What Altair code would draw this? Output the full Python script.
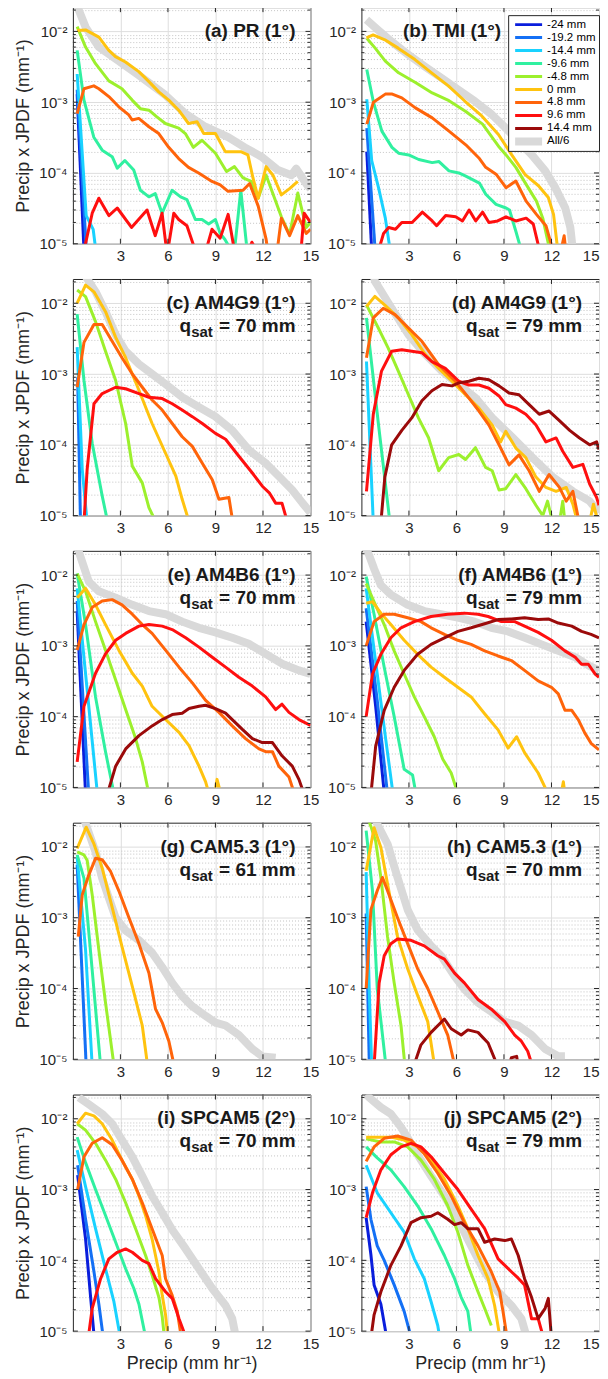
import altair as alt
import pandas as pd

# ---------------- series definitions ----------------
SERIES = ["-24 mm", "-19.2 mm", "-14.4 mm", "-9.6 mm", "-4.8 mm",
          "0 mm", "4.8 mm", "9.6 mm", "14.4 mm", "All/6"]
KEYS = ["n24", "n19", "n14", "n9", "n4", "z0", "p4", "p9", "p14", "all"]
COLORS = ["#0a1edc", "#1470f5", "#19d2ff", "#30f0a0", "#9cf02d",
          "#ffc30f", "#ff640a", "#ff0f0f", "#9b0a0a", "#d9d9d9"]
WIDTHS = [3, 3, 3, 3, 3, 3, 3, 3, 3, 8]

X_TICKS = [3, 6, 9, 12, 15]
X_INNER_TICKS = [3, 6, 9, 12]
Y_MAJOR = [1e-5, 1e-4, 1e-3, 1e-2]
Y_MINOR = [2e-5, 3e-5, 4e-5, 5e-5, 6e-5, 7e-5, 8e-5, 9e-5,
           2e-4, 3e-4, 4e-4, 5e-4, 6e-4, 7e-4, 8e-4, 9e-4,
           2e-3, 3e-3, 4e-3, 5e-3, 6e-3, 7e-3, 8e-3, 9e-3, 2e-2]
Y_TICKS = sorted(Y_MAJOR + Y_MINOR)

TITLES = ["(a) PR (1°)", "(b) TMI (1°)", "(c) AM4G9 (1°)", "(d) AM4G9 (1°)",
          "(e) AM4B6 (1°)", "(f) AM4B6 (1°)", "(g) CAM5.3 (1°)", "(h) CAM5.3 (1°)",
          "(i) SPCAM5 (2°)", "(j) SPCAM5 (2°)"]
QSAT = [None, None, "70", "79", "70", "79", "61", "70", "70", "79"]

# ---------------- data (precip, Precip x JPDF) ----------------
PANEL_A = {
    "n24": [(0.27, 1.3e-3), (0.7, 8e-6)],
    "n19": [(0.27, 1.5e-3), (0.85, 8e-6)],
    "n14": [(0.27, 2.5e-3), (0.84, 2.5e-5), (1.28, 1.6e-5), (1.45, 8e-6)],
    "n9": [(0.27, 5.4e-3), (0.7, 1.07e-3), (1.32, 3.2e-4), (1.85, 2.1e-4), (2.48, 1.7e-4),
           (2.8, 1.17e-4), (3.28, 1.5e-4), (3.84, 1.1e-4), (4.26, 5.7e-5), (4.8, 4.6e-5),
           (5.2, 5.1e-5), (5.63, 2.7e-5), (6.26, 5.7e-5), (6.8, 4.6e-5), (7.2, 4.2e-5),
           (7.73, 2.2e-5), (8.15, 2.2e-5), (8.57, 1.9e-5), (9.0, 2.2e-5), (9.3, 1.4e-5),
           (9.6, 1.15e-5), (10.0, 8e-6), (10.2, 8e-6), (10.6, 5.7e-5), (11.0, 8e-6)],
    "n4": [(0.27, 0.0117), (0.8, 6e-3), (1.43, 3.5e-3), (2.27, 2e-3), (3.1, 1.55e-3),
           (3.74, 1.07e-3), (4.26, 8.1e-4), (4.8, 7.7e-4), (5.3, 6.2e-4), (5.84, 5e-4),
           (6.68, 4.3e-4), (7.1, 3.6e-4), (7.6, 2.3e-4), (8.15, 2.9e-4), (9.0, 1.9e-4),
           (9.7, 1.05e-4), (10.2, 1.23e-4), (10.74, 8.5e-5), (11.26, 7.6e-5), (11.7, 4.4e-5),
           (12.2, 9.3e-5), (13.16, 2.4e-5), (13.68, 1.35e-5), (14.2, 5.2e-5), (14.73, 1.7e-5),
           (15.0, 2e-5)],
    "z0": [(0.27, 0.0103), (0.8, 0.0105), (1.64, 8.3e-3), (2.27, 5.4e-3), (2.69, 4.4e-3),
           (3.32, 3.7e-3), (4.16, 2.7e-3), (4.8, 1.95e-3), (5.42, 1.4e-3), (6.05, 1.07e-3),
           (6.68, 7.7e-4), (7.3, 5e-4), (7.84, 5.3e-4), (8.26, 3.6e-4), (9.0, 3.6e-4),
           (9.62, 2e-4), (10.6, 2e-4), (11.05, 1.8e-4), (11.37, 8.5e-5), (11.7, 4.4e-5),
           (12.2, 1.23e-4), (12.63, 9.3e-5), (13.16, 4.9e-5), (13.68, 6e-5), (14.2, 7.6e-5)],
    "p4": [(0.27, 6.9e-4), (0.7, 1.55e-3), (1.32, 1.7e-3), (1.64, 1.55e-3), (2.27, 1.2e-3),
           (2.9, 8.6e-4), (3.53, 6.6e-4), (3.74, 5.6e-4), (4.16, 5.9e-4), (4.8, 4.5e-4),
           (5.42, 3.6e-4), (6.05, 2.3e-4), (6.68, 1.6e-4), (7.3, 1.2e-4), (7.94, 1e-4),
           (8.78, 7.6e-5), (9.3, 6.8e-5), (9.8, 5.5e-5), (10.74, 5.7e-5), (11.16, 7.1e-5),
           (11.7, 3.4e-5), (12.2, 1.15e-5), (12.3, 8e-6), (12.9, 8e-6), (13.16, 2.3e-5),
           (13.68, 1.3e-5), (14.2, 2.5e-5), (14.73, 1.4e-5), (15.0, 1.6e-5)],
    "p9": [(0.7, 8e-6), (1.22, 2.7e-5), (1.64, 4.4e-5), (2.27, 2.5e-5), (2.8, 3.2e-5),
           (3.7, 1.7e-5), (4.68, 3e-5), (5.2, 1.3e-5), (5.63, 2.7e-5), (5.95, 7e-6),
           (6.37, 2.7e-5), (6.68, 2.2e-5), (7.2, 1.8e-5), (7.73, 8e-6), (8.4, 8e-6),
           (8.78, 1.6e-5), (9.3, 1.2e-5), (9.8, 2.6e-5), (10.2, 8e-6), (11.1, 8e-6),
           (11.3, 1.05e-5), (11.6, 8e-6), (14.4, 8e-6), (14.6, 2.7e-5), (15.0, 2e-5)],
    "all": [(0.2, 0.025), (0.8, 0.0115), (1.64, 6e-3), (2.69, 4.1e-3), (4.16, 2.4e-3),
            (5.84, 1.26e-3), (7.1, 6.9e-4), (8.36, 4.5e-4), (9.8, 3.2e-4), (10.85, 2.3e-4),
            (11.9, 1.7e-4), (12.95, 1.1e-4), (13.8, 9.3e-5), (14.1, 1.15e-4), (14.84, 6.5e-5),
            (15.0, 6e-5)],
}

PANEL_B = {
    "n24": [(0.34, 2e-4), (0.65, 8e-6)],
    "n19": [(0.34, 4.3e-4), (0.87, 8e-6)],
    "n14": [(0.34, 1.1e-3), (0.65, 1.5e-4), (1.08, 6.2e-5), (1.51, 2.3e-5), (1.82, 8e-6)],
    "n9": [(0.34, 2.9e-3), (0.76, 1e-3), (1.29, 3.9e-4), (1.93, 2.3e-4), (2.35, 1.9e-4),
           (2.99, 1.8e-4), (3.62, 1.55e-4), (4.47, 1.4e-4), (4.9, 1.45e-4), (5.53, 1.07e-4),
           (6.15, 1e-4), (6.59, 9e-5), (7.45, 7.2e-5), (7.85, 5e-5), (8.5, 3.6e-5),
           (9.13, 3.2e-5), (9.35, 3e-5), (9.75, 1.5e-5), (10.1, 8e-6)],
    "n4": [(0.34, 8e-3), (0.87, 5.8e-3), (1.51, 3.8e-3), (2.35, 2.6e-3), (3.41, 1.9e-3),
           (4.47, 1.35e-3), (5.53, 1.05e-3), (6.59, 7.4e-4), (7.65, 4.9e-4), (8.71, 2.3e-4),
           (9.13, 1.8e-4), (9.75, 1.2e-4), (10.4, 6.9e-5), (11.05, 4e-5), (11.45, 2.3e-5),
           (11.9, 8e-6)],
    "z0": [(0.32, 8.1e-3), (0.74, 8.9e-3), (1.48, 7.6e-3), (2.32, 5.8e-3), (3.38, 4e-3),
           (4.43, 2.6e-3), (5.49, 1.7e-3), (6.54, 1.03e-3), (7.6, 6.4e-4), (8.65, 3.5e-4),
           (9.49, 1.8e-4), (10.34, 9.5e-5), (11.18, 6.6e-5), (11.8, 4.5e-5), (12.13, 2.6e-5),
           (12.4, 8e-6)],
    "p4": [(0.34, 4.9e-4), (0.76, 1e-3), (1.51, 1.3e-3), (1.95, 1.3e-3), (2.55, 1.15e-3),
           (3.41, 8.3e-4), (4.47, 6e-4), (5.53, 3.9e-4), (6.59, 2.5e-4), (7.45, 1.6e-4),
           (7.85, 1.2e-4), (8.5, 9.6e-5), (9.13, 6.2e-5), (9.75, 7.7e-5), (10.4, 4e-5),
           (11.05, 2.6e-5), (11.65, 1.8e-5), (12.1, 8e-6), (12.6, 8e-6), (12.8, 1.3e-5),
           (12.9, 8e-6)],
    "p9": [(1.08, 8e-6), (1.4, 1.4e-5), (1.72, 1.7e-5), (2.15, 1.6e-5), (2.55, 2e-5),
           (3.2, 2e-5), (3.85, 2.8e-5), (4.47, 2.1e-5), (4.75, 1.8e-5), (5.32, 2.5e-5),
           (5.95, 2.4e-5), (6.38, 2.1e-5), (6.8, 3e-5), (7.22, 2.1e-5), (7.65, 2.8e-5),
           (8.05, 2e-5), (8.6, 2.1e-5), (9.13, 2.4e-5), (9.75, 2.1e-5), (10.4, 2.3e-5),
           (10.85, 1.9e-5), (11.25, 8e-6)],
    "all": [(0.32, 0.0146), (1.05, 0.0105), (1.9, 7.2e-3), (2.95, 4.7e-3), (4.0, 3.2e-3),
            (5.06, 2.2e-3), (6.12, 1.5e-3), (7.17, 1.03e-3), (8.23, 6.7e-4), (9.07, 4.4e-4),
            (9.92, 2.8e-4), (10.76, 1.8e-4), (11.6, 1.07e-4), (12.24, 6.2e-5), (12.87, 3.2e-5),
            (13.19, 1.7e-5), (13.35, 8e-6)],
}

PANEL_C = {
    "n19": [(0.3, 9e-4), (0.48, 8e-6)],
    "n14": [(0.27, 2.4e-3), (0.59, 4.5e-5), (0.9, 8e-6)],
    "n9": [(0.27, 7e-3), (0.7, 8.1e-4), (1.22, 1.05e-4), (1.85, 1.9e-5), (2.2, 8e-6)],
    "n4": [(0.27, 0.0154), (0.8, 0.0124), (1.43, 5.5e-3), (2.06, 2.1e-3), (2.7, 8.1e-4),
           (3.33, 2e-4), (3.75, 5e-5), (4.38, 2.9e-5), (4.8, 1.3e-5), (5.25, 8e-6)],
    "z0": [(0.27, 0.01), (0.8, 0.018), (1.33, 0.0145), (2.06, 7.6e-3), (2.7, 3.3e-3),
           (3.33, 1.7e-3), (4.17, 5.9e-4), (5.0, 2e-4), (5.85, 7.6e-5), (6.5, 3.6e-5),
           (6.9, 1.7e-5), (7.35, 8e-6)],
    "p4": [(0.27, 6.5e-4), (0.7, 2.8e-3), (1.33, 5e-3), (1.85, 5e-3), (2.48, 2.9e-3),
           (3.1, 1.7e-3), (3.75, 1e-3), (4.38, 6.5e-4), (5.0, 4.3e-4), (5.64, 3.1e-4),
           (6.27, 2e-4), (6.9, 1.3e-4), (7.54, 9.5e-5), (8.17, 5.5e-5), (8.8, 3.2e-5),
           (9.22, 1.7e-5), (9.85, 1.8e-5), (10.1, 8e-6)],
    "p9": [(0.7, 8e-6), (0.9, 4.5e-5), (1.33, 3.8e-4), (1.85, 5.3e-4), (2.7, 6.5e-4),
           (3.33, 6.2e-4), (4.17, 5.3e-4), (4.8, 4.7e-4), (5.64, 4.5e-4), (6.27, 3.8e-4),
           (6.9, 3.1e-4), (7.54, 2.5e-4), (8.17, 2e-4), (9.0, 1.45e-4), (9.64, 1.2e-4),
           (10.48, 6.9e-5), (11.33, 4e-5), (11.96, 2.6e-5), (12.4, 2.1e-5), (12.8, 1.5e-5),
           (13.2, 1.5e-5), (13.55, 8e-6)],
    "all": [(0.8, 0.024), (1.43, 0.0146), (2.06, 7.6e-3), (2.7, 3.6e-3), (3.33, 2.1e-3),
            (4.17, 1.38e-3), (5.0, 1e-3), (5.85, 7.2e-4), (6.9, 4.7e-4), (7.96, 3.4e-4),
            (9.0, 2.5e-4), (10.06, 1.6e-4), (11.1, 8.5e-5), (12.17, 5.5e-5), (13.0, 3.6e-5),
            (13.85, 2.3e-5), (14.5, 1.5e-5), (15.0, 1.1e-5)],
}

PANEL_D = {
    "n14": [(0.32, 1.5e-3), (0.75, 8e-6)],
    "n9": [(0.32, 6.2e-3), (1.06, 2.1e-4), (1.8, 8e-6)],
    "n4": [(0.32, 9.5e-3), (1.06, 4.5e-3), (1.7, 2.3e-3), (2.33, 1.1e-3), (2.97, 5.1e-4),
           (3.6, 2.4e-4), (4.24, 1.26e-4), (4.88, 4.3e-5), (5.51, 6.6e-5), (6.15, 7.3e-5),
           (6.57, 6.2e-5), (7.2, 9.1e-5), (7.84, 4.8e-5), (8.26, 4.3e-5), (8.69, 2.3e-5),
           (9.11, 2.4e-5), (9.75, 3.8e-5), (10.38, 2.4e-5), (11.02, 1.4e-5), (11.45, 1e-5),
           (11.75, 1.6e-5), (12.08, 8e-6), (12.5, 8e-6), (12.71, 1.6e-5), (12.85, 8e-6)],
    "z0": [(0.32, 9e-3), (0.85, 0.0125), (1.48, 9.4e-3), (2.33, 6.2e-3), (3.18, 3.6e-3),
           (4.03, 1.9e-3), (4.88, 1.2e-3), (5.72, 7.9e-4), (6.57, 5.1e-4), (7.42, 3.3e-4),
           (8.26, 1.9e-4), (8.79, 1.1e-4), (9.11, 1.55e-4), (9.75, 9e-5), (10.38, 6.6e-5),
           (11.02, 3.5e-5), (11.65, 2.5e-5), (12.29, 2.2e-5), (12.93, 2.5e-5), (13.35, 1.45e-5),
           (13.65, 8e-6), (14.4, 8e-6), (14.65, 1.45e-5), (14.95, 8e-6)],
    "p4": [(0.32, 1.7e-3), (0.75, 6.2e-3), (1.38, 8.5e-3), (2.12, 6.9e-3), (2.75, 5e-3),
           (3.82, 2.9e-3), (4.88, 1.35e-3), (5.93, 7.9e-4), (6.78, 4.6e-4), (7.42, 3e-4),
           (8.05, 1.9e-4), (8.69, 1e-4), (9.32, 5.2e-5), (9.95, 7.2e-5), (10.59, 4.3e-5),
           (11.23, 2.2e-5), (11.85, 3.8e-5), (12.5, 2.5e-5), (12.93, 1.6e-5), (13.35, 2.2e-5),
           (13.75, 8e-6)],
    "p9": [(0.32, 2.2e-5), (0.75, 2.7e-4), (1.27, 1.1e-3), (1.91, 2.1e-3), (2.55, 2.2e-3),
           (3.18, 2.1e-3), (3.82, 2e-3), (4.45, 1.5e-3), (5.3, 1.2e-3), (6.15, 7.9e-4),
           (6.78, 7e-4), (7.42, 7e-4), (8.05, 6.3e-4), (8.69, 4.9e-4), (9.11, 3.7e-4),
           (9.75, 3.3e-4), (10.38, 2.7e-4), (11.02, 1.9e-4), (11.65, 1.1e-4), (12.29, 1.25e-4),
           (12.71, 8.1e-5), (13.35, 4.8e-5), (13.98, 5.3e-5), (14.41, 2.8e-5), (14.85, 1.8e-5),
           (15.0, 1.4e-5)],
    "p14": [(1.23, 8e-6), (1.48, 3.5e-5), (1.91, 1e-4), (2.55, 1.6e-4), (3.18, 2.4e-4),
            (3.82, 4.2e-4), (4.45, 5.8e-4), (5.09, 7.1e-4), (5.72, 6.8e-4), (6.15, 7.5e-4),
            (6.78, 7.9e-4), (7.42, 8.7e-4), (8.05, 8.3e-4), (8.69, 6.8e-4), (9.32, 5.4e-4),
            (9.95, 5.1e-4), (10.59, 3.7e-4), (11.23, 2.7e-4), (11.85, 3e-4), (12.5, 2.2e-4),
            (13.15, 1.6e-4), (13.75, 1.26e-4), (14.41, 1e-4), (14.85, 1.1e-4), (15.0, 8.6e-5)],
    "all": [(0.7, 0.03), (0.85, 0.0205), (1.91, 8.5e-3), (2.97, 3.6e-3), (4.03, 1.9e-3),
            (5.09, 1.1e-3), (6.15, 7.1e-4), (7.2, 4.6e-4), (8.26, 2.4e-4), (9.55, 1.26e-4),
            (10.8, 6.6e-5), (12.08, 3.5e-5), (13.35, 2.2e-5), (14.41, 1.6e-5), (15.0, 1.1e-5)],
}

PANEL_E = {
    "n24": [(0.27, 3.1e-3), (0.8, 8e-6)],
    "n19": [(0.27, 4.3e-3), (1.0, 8e-6)],
    "n14": [(0.27, 6.5e-3), (0.9, 2.4e-4), (1.55, 8e-6)],
    "n9": [(0.27, 0.0105), (0.8, 2e-3), (1.43, 1.9e-4), (2.06, 3.2e-5), (2.6, 8e-6)],
    "n4": [(0.27, 0.0105), (0.8, 5.9e-3), (1.43, 2.2e-3), (2.06, 8.7e-4), (2.7, 3.3e-4),
           (3.33, 1.26e-4), (3.96, 4.9e-5), (4.38, 2.3e-5), (4.8, 8e-6)],
    "z0": [(0.27, 4.8e-3), (0.8, 6.5e-3), (1.43, 3.8e-3), (2.06, 2e-3), (2.9, 8.7e-4),
           (3.75, 4.1e-4), (4.38, 2.7e-4), (5.0, 1.4e-4), (5.85, 9.1e-5), (6.7, 6e-5),
           (7.33, 3.9e-5), (7.96, 2e-5), (8.38, 1.2e-5), (8.6, 8e-6), (8.95, 8e-6),
           (9.1, 1.3e-5), (9.35, 8e-6)],
    "p4": [(0.27, 8.7e-4), (0.7, 2e-3), (1.22, 3.5e-3), (1.85, 4.3e-3), (2.48, 4.5e-3),
           (3.1, 3.8e-3), (3.75, 2.8e-3), (4.38, 2e-3), (5.0, 1.5e-3), (5.85, 8.7e-4),
           (6.7, 5e-4), (7.54, 3e-4), (8.38, 1.7e-4), (9.22, 1.15e-4), (10.06, 7.4e-5),
           (10.9, 4.9e-5), (11.75, 3.5e-5), (12.17, 3.2e-5), (12.6, 3.2e-5), (13.0, 2e-5),
           (13.64, 1.4e-5), (14.0, 8e-6)],
    "p9": [(0.27, 2.3e-5), (0.7, 1.4e-4), (1.43, 4.1e-4), (2.06, 7.7e-4), (2.7, 1.2e-3),
           (3.33, 1.5e-3), (4.17, 1.9e-3), (4.8, 2e-3), (5.64, 1.9e-3), (6.27, 1.7e-3),
           (7.12, 1.3e-3), (7.96, 9.6e-4), (8.8, 6.9e-4), (9.64, 5e-4), (10.48, 3.6e-4),
           (11.33, 2.7e-4), (12.17, 1.9e-4), (12.8, 1.26e-4), (13.2, 1.5e-4), (13.64, 1.15e-4),
           (14.27, 9.1e-5), (15.0, 7.5e-5)],
    "p14": [(2.17, 8e-6), (2.7, 2e-5), (3.33, 3.5e-5), (4.17, 5.4e-5), (5.0, 7.4e-5),
            (5.64, 9.1e-5), (6.27, 1.07e-4), (6.9, 1.12e-4), (7.33, 1.3e-4), (7.96, 1.4e-4),
            (8.38, 1.45e-4), (9.0, 1.3e-4), (9.64, 1.12e-4), (10.06, 9.1e-5), (10.7, 6.6e-5),
            (11.33, 4.9e-5), (11.96, 4.3e-5), (12.6, 4.3e-5), (13.2, 2.8e-5), (13.85, 2e-5),
            (14.27, 1.3e-5), (14.6, 8e-6)],
    "all": [(0.27, 0.025), (0.59, 0.0153), (1.0, 8.1e-3), (1.64, 5.9e-3), (2.7, 4.8e-3),
            (3.75, 3.8e-3), (4.8, 3.1e-3), (5.85, 2.8e-3), (6.9, 2.2e-3), (7.96, 1.8e-3),
            (9.0, 1.55e-3), (10.06, 1.3e-3), (11.1, 1.07e-3), (12.17, 7.7e-4), (13.2, 5.6e-4),
            (14.27, 4.5e-4), (15.0, 4e-4)],
}

PANEL_F = {
    "n24": [(0.3, 2.2e-3), (0.9, 1.4e-4), (1.45, 8e-6)],
    "n19": [(0.3, 3.4e-3), (1.0, 1.7e-4), (1.65, 8e-6)],
    "n14": [(0.3, 6.5e-3), (1.0, 4e-4), (1.54, 4.7e-5), (2.0, 8e-6)],
    "n9": [(0.3, 9.5e-3), (0.8, 2.8e-3), (1.44, 5e-4), (2.07, 1e-4), (2.7, 1.8e-5),
           (3.23, 1.5e-5), (3.45, 8e-6)],
    "n4": [(0.3, 7.6e-3), (0.8, 4.2e-3), (1.44, 2e-3), (2.07, 8.5e-4), (2.7, 4e-4),
           (3.34, 1.9e-4), (3.97, 1e-4), (4.6, 5.2e-5), (5.14, 2.5e-5), (5.67, 1.6e-5),
           (6.1, 8e-6)],
    "z0": [(0.3, 4e-3), (0.7, 4.2e-3), (1.23, 2.9e-3), (1.86, 2e-3), (2.7, 1.2e-3),
           (3.55, 7.6e-4), (4.4, 5e-4), (5.24, 3.6e-4), (6.09, 2.6e-4), (6.93, 1.9e-4),
           (7.78, 1.1e-4), (8.63, 6.5e-5), (9.26, 3.6e-5), (9.8, 5.2e-5), (10.3, 3.1e-5),
           (11.16, 1.6e-5), (11.8, 8e-6), (12.6, 8e-6), (12.75, 1.2e-5), (12.85, 8e-6)],
    "p4": [(0.3, 1e-3), (0.8, 2.2e-3), (1.44, 2.8e-3), (2.07, 2.8e-3), (2.92, 2.5e-3),
           (3.76, 2.2e-3), (4.4, 1.8e-3), (5.24, 1.45e-3), (6.09, 1.2e-3), (6.93, 1.05e-3),
           (7.78, 8.5e-4), (8.63, 7.2e-4), (9.47, 6.2e-4), (10.3, 4.5e-4), (11.16, 3.2e-4),
           (12.0, 2.6e-4), (12.43, 2.1e-4), (12.85, 1.23e-4), (13.28, 1.23e-4), (13.7, 9e-5),
           (14.1, 5.9e-5), (14.5, 4.2e-5), (15.0, 3.4e-5)],
    "p9": [(0.3, 1e-4), (0.7, 4e-4), (1.23, 7.6e-4), (1.86, 1.3e-3), (2.5, 1.8e-3),
           (3.34, 2.2e-3), (4.4, 2.6e-3), (5.45, 2.8e-3), (6.5, 2.9e-3), (7.36, 2.8e-3),
           (8.0, 2.6e-3), (8.84, 2.2e-3), (9.68, 2.2e-3), (10.3, 1.9e-3), (11.16, 1.55e-3),
           (12.0, 1.2e-3), (12.85, 8.5e-4), (13.5, 6.9e-4), (13.9, 5.5e-4), (14.33, 5.5e-4),
           (14.76, 4e-4), (15.0, 3.6e-4)],
    "p14": [(0.6, 8e-6), (0.9, 3.8e-5), (1.44, 1.23e-4), (2.07, 2.6e-4), (2.7, 4.5e-4),
            (3.55, 7.6e-4), (4.4, 1.05e-3), (5.24, 1.3e-3), (6.09, 1.6e-3), (6.93, 1.8e-3),
            (7.78, 2.05e-3), (8.63, 2.35e-3), (9.47, 2.4e-3), (10.3, 2.5e-3), (11.16, 2.35e-3),
            (11.8, 2.4e-3), (12.43, 2.1e-3), (13.28, 1.9e-3), (13.9, 1.6e-3), (14.5, 1.45e-3),
            (15.0, 1.3e-3)],
    "all": [(0.2, 0.026), (0.49, 0.019), (0.8, 0.0123), (1.23, 7.2e-3), (1.86, 5.3e-3),
            (2.92, 3.8e-3), (3.97, 3.1e-3), (5.03, 2.8e-3), (6.09, 2.5e-3), (7.15, 2.2e-3),
            (8.2, 1.8e-3), (9.26, 1.6e-3), (10.32, 1.3e-3), (11.37, 1.05e-3), (12.43, 8.5e-4),
            (13.5, 6.9e-4), (14.33, 5.3e-4), (15.0, 4.5e-4)],
}

PANEL_G = {
    "n19": [(0.27, 5.6e-3), (0.84, 8e-6)],
    "n14": [(0.27, 7.2e-3), (0.8, 3.5e-4), (1.22, 8e-6)],
    "n9": [(0.27, 7.7e-3), (0.7, 3.6e-3), (1.22, 1.8e-4), (1.75, 8e-6)],
    "n4": [(0.27, 8.5e-3), (0.7, 7.7e-3), (0.9, 6.5e-3), (1.22, 2.1e-3), (1.64, 3.5e-4),
           (2.06, 6.3e-5), (2.6, 8e-6)],
    "z0": [(0.27, 9.5e-3), (0.84, 0.019), (1.33, 0.011), (1.85, 5e-3), (2.48, 1.4e-3),
           (3.1, 3.9e-4), (3.75, 1.07e-4), (4.38, 3e-5), (4.72, 8e-6)],
    "p4": [(0.34, 5.4e-4), (0.59, 2.1e-3), (1.0, 4e-3), (1.43, 6.9e-3), (1.85, 6.6e-3),
           (2.38, 4.5e-3), (2.9, 2.4e-3), (3.54, 1e-3), (4.17, 4.3e-4), (4.8, 1.65e-4),
           (5.22, 5.1e-5), (5.64, 3.3e-5), (6.06, 1.8e-5), (6.4, 8e-6)],
    "all": [(0.7, 0.025), (1.0, 0.016), (1.43, 8.5e-3), (1.85, 3.6e-3), (2.27, 1.9e-3),
            (2.7, 1e-3), (3.33, 6.6e-4), (4.17, 4.8e-4), (5.0, 3.2e-4), (5.64, 2e-4),
            (6.27, 1.2e-4), (6.9, 7.8e-5), (7.54, 5.6e-5), (8.38, 4.1e-5), (9.0, 3.3e-5),
            (9.64, 3e-5), (10.48, 2.2e-5), (11.33, 1.4e-5), (11.96, 1.1e-5), (12.8, 1.05e-5)],
}

PANEL_H = {
    "n19": [(0.3, 1.15e-3), (0.5, 8e-6)],
    "n14": [(0.3, 4.4e-3), (0.5, 8.7e-5), (0.65, 8e-6)],
    "n9": [(0.3, 0.017), (0.7, 2.4e-3), (1.0, 1e-4), (1.33, 2.2e-5), (1.55, 8e-6)],
    "n4": [(0.3, 0.03), (0.6, 0.0195), (0.9, 0.012), (1.23, 3.7e-3), (1.65, 5.4e-4),
           (2.07, 1.2e-4), (2.5, 3e-5), (2.75, 8e-6)],
    "z0": [(0.3, 4.6e-3), (0.8, 0.0186), (1.23, 9.8e-3), (1.65, 3e-3), (2.28, 5.4e-4),
           (2.92, 1.9e-4), (3.55, 8e-5), (4.19, 3.4e-5), (4.62, 8e-6)],
    "p4": [(0.3, 1e-4), (0.6, 1.3e-3), (1.0, 2.4e-3), (1.33, 3.7e-3), (1.65, 2.4e-3),
           (2.28, 1e-3), (2.92, 4.3e-4), (3.55, 1.9e-4), (4.19, 1e-4), (4.82, 4.7e-5),
           (5.45, 2.2e-5), (5.9, 8e-6)],
    "p9": [(0.8, 8e-6), (1.12, 1.2e-4), (1.44, 2.9e-4), (1.86, 4.3e-4), (2.28, 5e-4),
           (3.13, 4.8e-4), (3.97, 4e-4), (4.82, 2.9e-4), (5.24, 2.6e-4), (5.88, 1.65e-4),
           (6.5, 1.2e-4), (7.36, 7e-5), (8.2, 5.1e-5), (9.05, 3.4e-5), (9.68, 2.2e-5),
           (10.1, 1.8e-5), (10.5, 1.3e-5), (10.8, 8e-6)],
    "p14": [(3.3, 8e-6), (3.76, 1.6e-5), (4.4, 2.4e-5), (5.24, 3.7e-5), (5.67, 2.7e-5),
            (6.3, 2.2e-5), (6.72, 2.6e-5), (7.36, 2.4e-5), (8.0, 1.7e-5), (8.6, 8e-6),
            (9.3, 8e-6), (9.47, 1.05e-5), (9.8, 1.1e-5), (9.9, 8e-6)],
    "all": [(0.7, 0.03), (1.0, 0.021), (1.65, 0.011), (2.28, 3.7e-3), (2.92, 1.3e-3),
            (3.55, 6.7e-4), (4.4, 4e-4), (5.03, 2.9e-4), (5.88, 1.5e-4), (6.5, 9.8e-5),
            (7.36, 6.3e-5), (8.2, 4.7e-5), (9.05, 3.4e-5), (9.9, 3e-5), (10.74, 2.2e-5),
            (11.6, 1.4e-5), (12.43, 1.1e-5), (12.85, 1.1e-5)],
}

PANEL_I = {
    "n24": [(0.3, 1.6e-3), (0.8, 2e-4), (1.12, 3e-5), (1.35, 8e-6)],
    "n19": [(0.3, 2.2e-3), (0.8, 3.8e-4), (1.33, 6.9e-5), (1.64, 2.4e-5), (1.92, 8e-6)],
    "n14": [(0.27, 3.6e-3), (0.8, 1.1e-3), (1.43, 2.8e-4), (2.06, 7.6e-5), (2.59, 2.6e-5),
            (3.0, 8e-6)],
    "n9": [(0.27, 5.5e-3), (0.8, 2.4e-3), (1.43, 1e-3), (2.06, 4.3e-4), (2.7, 1.8e-4),
           (3.33, 7.6e-5), (3.85, 4e-5), (4.17, 2.4e-5), (4.6, 8e-6)],
    "n4": [(0.27, 8.5e-3), (0.8, 6.9e-3), (1.43, 4.5e-3), (2.06, 2.6e-3), (2.7, 1.4e-3),
           (3.33, 6.5e-4), (3.96, 2.8e-4), (4.59, 1.17e-4), (5.0, 6.2e-5), (5.43, 3e-5),
           (5.64, 1.6e-5), (5.78, 8e-6)],
    "z0": [(0.27, 8.5e-3), (0.8, 0.012), (1.33, 0.011), (1.85, 8.5e-3), (2.48, 5e-3),
           (3.1, 2.6e-3), (3.75, 1.4e-3), (4.17, 8.1e-4), (4.59, 4.3e-4), (5.0, 2e-4),
           (5.43, 6.9e-5), (5.64, 3.2e-5), (5.85, 1.7e-5), (6.0, 8e-6)],
    "p4": [(0.3, 1e-3), (0.7, 2.9e-3), (1.22, 4.5e-3), (1.85, 5.4e-3), (2.48, 4.3e-3),
           (3.1, 2.6e-3), (3.75, 1.4e-3), (4.38, 6.5e-4), (5.0, 2.8e-4), (5.64, 1.17e-4),
           (5.85, 5.5e-5), (6.27, 3.2e-5), (6.59, 1.9e-5), (6.85, 8e-6)],
    "p9": [(0.97, 8e-6), (1.22, 2.1e-5), (1.75, 5.5e-5), (2.27, 1.05e-4), (2.8, 1.3e-4),
           (3.33, 1.45e-4), (3.75, 1.3e-4), (4.38, 1e-4), (4.8, 9e-5), (5.22, 5.5e-5),
           (5.85, 3.6e-5), (6.27, 2.9e-5), (6.7, 1.5e-5), (7.15, 8e-6)],
    "all": [(0.38, 0.02), (1.0, 0.016), (1.85, 0.0117), (2.48, 8.5e-3), (3.1, 5e-3),
            (3.75, 2.9e-3), (4.38, 1.55e-3), (5.0, 8.1e-4), (5.64, 4.7e-4), (6.27, 2.7e-4),
            (7.12, 1.45e-4), (7.96, 7.6e-5), (8.8, 4e-5), (9.64, 2.3e-5), (10.06, 1.5e-5),
            (10.3, 8e-6)],
}

PANEL_J = {
    "n24": [(0.3, 4e-4), (0.6, 1.2e-4), (0.8, 4.5e-5), (1.23, 2.4e-5), (1.6, 8e-6)],
    "n19": [(0.3, 1.1e-3), (0.6, 3.8e-4), (1.0, 1.6e-4), (1.44, 1e-4), (2.07, 4.5e-5),
            (2.7, 1.9e-5), (3.15, 8e-6)],
    "n14": [(0.3, 2.2e-3), (1.0, 9e-4), (1.86, 4.7e-4), (2.7, 2.5e-4), (3.34, 1.05e-4),
            (3.97, 5.5e-5), (4.4, 2.6e-5), (4.82, 1.2e-5), (4.95, 8e-6)],
    "n9": [(0.3, 4e-3), (1.0, 2.8e-3), (1.86, 1.9e-3), (2.7, 1.1e-3), (3.55, 5.9e-4),
           (4.4, 2.8e-4), (5.24, 1.17e-4), (5.88, 5.5e-5), (6.3, 3e-5), (6.72, 1.9e-5),
           (6.95, 8e-6)],
    "n4": [(0.3, 5.2e-3), (1.23, 4.7e-3), (2.07, 4.7e-3), (2.92, 4e-3), (3.76, 2.6e-3),
           (4.6, 1.4e-3), (5.45, 5.9e-4), (6.09, 2.5e-4), (6.72, 8.5e-5), (7.36, 3.6e-5),
           (7.78, 2.1e-5), (8.2, 1.2e-5)],
    "z0": [(0.3, 5.5e-3), (1.0, 5.5e-3), (1.86, 5.5e-3), (2.7, 5e-3), (3.55, 4e-3),
           (4.4, 2.6e-3), (5.24, 1.4e-3), (6.09, 5.9e-4), (6.72, 2.8e-4), (7.36, 1.17e-4),
           (8.0, 5.5e-5), (8.41, 2.3e-5), (8.75, 8e-6)],
    "p4": [(0.3, 2.5e-3), (0.8, 4e-3), (1.44, 5.3e-3), (2.28, 5.7e-3), (3.13, 5e-3),
           (3.97, 3.2e-3), (4.82, 1.7e-3), (5.67, 8.1e-4), (6.5, 3.4e-4), (7.36, 1.6e-4),
           (8.2, 6.9e-5), (8.73, 3.6e-5), (8.94, 1.9e-5), (9.2, 8e-6)],
    "p9": [(0.3, 4e-4), (0.7, 9e-4), (1.23, 1.9e-3), (1.86, 3.1e-3), (2.5, 4e-3),
           (3.13, 4.5e-3), (3.76, 4e-3), (4.4, 2.9e-3), (5.24, 1.7e-3), (6.09, 1e-3),
           (6.93, 5.3e-4), (7.78, 2.8e-4), (8.63, 1.05e-4), (9.47, 6.9e-5), (9.9, 5.6e-5),
           (10.3, 4.5e-5), (10.74, 1.5e-5), (11.16, 1.5e-5), (11.5, 8e-6)],
    "p14": [(0.6, 8e-6), (0.8, 1.7e-5), (1.23, 3.6e-5), (1.86, 8.5e-5), (2.5, 1.6e-4),
            (3.13, 3.4e-4), (3.76, 4e-4), (4.4, 4.2e-4), (4.82, 4.7e-4), (5.45, 3.8e-4),
            (5.88, 3.2e-4), (6.3, 3.4e-4), (6.72, 2.8e-4), (7.36, 2.8e-4), (7.78, 1.8e-4),
            (8.41, 2e-4), (9.05, 1.9e-4), (9.47, 2e-4), (9.9, 1.17e-4), (10.3, 5.5e-5),
            (10.74, 3e-5), (11.16, 1.5e-5), (11.6, 2.1e-5), (11.8, 2.9e-5), (12.0, 8e-6)],
    "all": [(0.3, 0.022), (0.49, 0.02), (1.23, 0.0145), (1.86, 0.0117), (2.5, 7.6e-3),
            (3.13, 4.5e-3), (3.76, 2.6e-3), (4.4, 1.55e-3), (5.24, 8.1e-4), (6.09, 3.8e-4),
            (6.93, 1.6e-4), (7.78, 6.9e-5), (8.63, 3.6e-5), (9.47, 2.3e-5), (10.1, 1.5e-5),
            (10.45, 8e-6)],
}

PANELS = [PANEL_A, PANEL_B, PANEL_C, PANEL_D, PANEL_E,
          PANEL_F, PANEL_G, PANEL_H, PANEL_I, PANEL_J]

# ---------------- layout constants ----------------
W, H = 238, 237
FONT = "Liberation Sans"
TFS = 19      # panel title font size
SFS = 15      # subscript font size
TICK_C = "#262626"
# Arial/Liberation Sans Bold advance widths (per em)
ADV = {" ": 0.278, "=": 0.584, "m": 0.889, "s": 0.556, "a": 0.556, "t": 0.333, "q": 0.611}
for d in "0123456789":
    ADV[d] = 0.556


def text_w(s, fs):
    return sum(ADV.get(c, 0.556) for c in s) * fs


IS_MAJOR = "abs(log(datum.value)/LN10 - round(log(datum.value)/LN10)) < 0.001"
YLABEL = ("(" + IS_MAJOR + ") ? (datum.value > 0.005 ? '10⁻²' : datum.value > 0.0005 ? '10⁻³'"
          " : datum.value > 0.00005 ? '10⁻⁴' : '10⁻⁵') : ''")

XSCALE = alt.Scale(domain=[0, 15], nice=False, zero=False)
YSCALE = alt.Scale(type="log", domain=[1e-5, 0.022], nice=False)


def make_panel(i):
    data = PANELS[i]
    col, row = i % 2, i // 2
    recs = []
    for k, key in enumerate(KEYS):
        for (xv, yv) in data.get(key, []):
            recs.append({"series": SERIES[k], "x": xv, "y": yv})
    df = pd.DataFrame(recs)
    df_grey = df[df["series"] == "All/6"]
    df_col = df[df["series"] != "All/6"]

    x_axis = alt.Axis(values=X_TICKS, title="Precip (mm hr⁻¹)" if row == 4 else None,
                      labelFlush=2 if col == 1 else False, labelPadding=5,
                      titlePadding=3, gridColor="#dedede")
    y_axis = alt.Axis(values=Y_TICKS, labelExpr=YLABEL, labelOverlap=False,
                      labelFlush=False, labelPadding=6,
                      labelFontSize={"condition": {"test": IS_MAJOR, "value": 15}, "value": 0.1},
                      title="Precip x JPDF (mm⁻¹)" if col == 0 else None,
                      titlePadding=6,
                      gridDash={"condition": {"test": IS_MAJOR, "value": []}, "value": [1, 2]},
                      gridColor={"condition": {"test": IS_MAJOR, "value": "#dedede"},
                                 "value": "#c4c4c4"})
    xenc = alt.X("x:Q", scale=XSCALE, axis=x_axis)
    yenc = alt.Y("y:Q", scale=YSCALE, axis=y_axis)

    if i == 1:
        leg = alt.Legend(title=None, orient="none", legendX=147, legendY=8,
                         direction="vertical", fillColor="white", strokeColor="#262626",
                         padding=3, symbolType="stroke", symbolSize=729,
                         clipHeight=13, rowPadding=0,
                         labelFont=FONT, labelFontSize=11.5, labelColor="black",
                         labelOffset=1, labelLimit=200, cornerRadius=0)
    else:
        leg = None
    cenc = alt.Color("series:N", scale=alt.Scale(domain=SERIES, range=COLORS), legend=leg)
    wenc = alt.StrokeWidth("series:N",
                           scale=alt.Scale(type="ordinal", domain=SERIES, range=WIDTHS),
                           legend=leg)

    grey = alt.Chart(df_grey).mark_line(clip=True, strokeJoin="round", strokeCap="butt").encode(
        x=xenc, y=yenc, color=cenc, strokeWidth=wenc)
    lines = alt.Chart(df_col).mark_line(clip=True, strokeJoin="round").encode(
        x=xenc, y=yenc, color=cenc, strokeWidth=wenc)

    # inward tick marks on all four edges (same scales and axes as the data)
    ticks = []
    for vals, ln in ((Y_MAJOR, 5), (Y_MINOR, 3)):
        src = pd.DataFrame({"y": vals})
        for x0, x1 in ((0, ln), (W - ln, W)):
            ticks.append(alt.Chart(src).mark_rule(color=TICK_C, strokeWidth=1).encode(
                y=yenc, x=alt.value(x0), x2=alt.value(x1)))
    src = pd.DataFrame({"x": X_INNER_TICKS})
    for y0, y1 in ((H - 5, H), (0, 5)):
        ticks.append(alt.Chart(src).mark_rule(color=TICK_C, strokeWidth=1).encode(
            x=xenc, y=alt.value(y0), y2=alt.value(y1)))

    layers = [grey, lines] + ticks
    tx = 140 if i == 1 else (W - 15 if col == 0 else W - 17)
    tstyle = dict(font=FONT, fontWeight="bold", color="#1a1a1a", baseline="alphabetic",
                  align="right")
    layers.append(alt.Chart(pd.DataFrame({"t": [TITLES[i]]})).mark_text(
        fontSize=TFS, **tstyle).encode(text="t:N", x=alt.value(tx), y=alt.value(30)))
    if QSAT[i]:
        rest = "= " + QSAT[i] + " mm"
        w_rest = text_w(rest, TFS)
        x_sat = tx - w_rest - text_w(" ", TFS) - 1
        x_q = x_sat - text_w("sat", SFS)
        layers.append(alt.Chart(pd.DataFrame({"t": [rest]})).mark_text(
            fontSize=TFS, **tstyle).encode(text="t:N", x=alt.value(tx), y=alt.value(53)))
        layers.append(alt.Chart(pd.DataFrame({"t": ["sat"]})).mark_text(
            fontSize=SFS, **tstyle).encode(text="t:N", x=alt.value(x_sat), y=alt.value(58)))
        layers.append(alt.Chart(pd.DataFrame({"t": ["q"]})).mark_text(
            fontSize=TFS, **tstyle).encode(text="t:N", x=alt.value(x_q), y=alt.value(53)))

    return alt.layer(*layers).properties(width=W, height=H)


chart = (
    alt.concat(*[make_panel(i) for i in range(10)], columns=2,
               spacing={"row": 35.3, "column": 51}, bounds="flush")
    .resolve_scale(color="independent", strokeWidth="independent")
    .resolve_legend(color="independent", strokeWidth="independent")
    .properties(padding={"left": 6, "top": -3, "right": 0, "bottom": 0},
                background="white")
    .configure_view(stroke="#262626", strokeWidth=1)
    .configure_axis(labelFont=FONT, labelFontSize=15, labelColor="#262626",
                    titleFont=FONT, titleFontSize=18, titleFontWeight="normal",
                    titleColor="#262626", domain=False, ticks=False, grid=True)
)

chart.save("out.html", embed_options={"renderer": "svg", "actions": False})
